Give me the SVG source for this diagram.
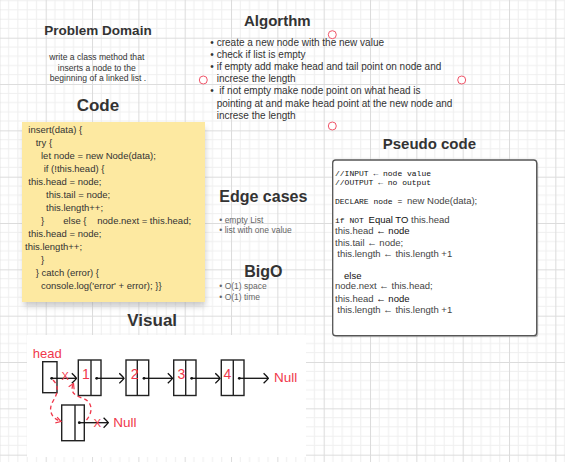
<svg xmlns="http://www.w3.org/2000/svg" width="565" height="462" viewBox="0 0 565 462">
  <defs>
    <pattern id="grid" x="-0.63" y="-8.63" width="46.33" height="46.33" patternUnits="userSpaceOnUse">
      <rect width="46.33" height="46.33" fill="#ffffff"/>
      <path d="M9.27 0V46.33M18.53 0V46.33M27.8 0V46.33M37.06 0V46.33M0 9.27H46.33M0 18.53H46.33M0 27.8H46.33M0 37.06H46.33" stroke="#efefef" stroke-width="1" fill="none"/>
      <path d="M0.5 0V46.33M0 0.5H46.33" stroke="#dcdcdc" stroke-width="1" fill="none"/>
    </pattern>
    <filter id="noteShadow" x="-10%" y="-10%" width="120%" height="130%">
      <feGaussianBlur stdDeviation="3"/>
    </filter>
    <marker id="chev" viewBox="0 0 6 12" refX="5.5" refY="6" markerWidth="6" markerHeight="12" markerUnits="userSpaceOnUse" orient="auto">
      <path d="M0.8 1 Q4 4 5.5 6 Q4 8 0.8 11" fill="none" stroke="#111" stroke-width="1.3"/>
    </marker>
    <marker id="redchev" viewBox="0 0 8 8" refX="6" refY="4" markerWidth="8" markerHeight="8" markerUnits="userSpaceOnUse" orient="auto">
      <path d="M1 1 L6 4 L1 7" fill="none" stroke="#f0384b" stroke-width="1.2"/>
    </marker>
  </defs>
  <style>
    .title { font-family: "Liberation Sans", Arial, sans-serif; font-weight: bold; fill: #333333; }
    .body { font-family: "Liberation Sans", Arial, sans-serif; fill: #333333; }
    .light { font-family: "Liberation Sans", Arial, sans-serif; fill: #666666; font-size: 8.5px; }
    .code { font-family: "Liberation Sans", Arial, sans-serif; fill: #333333; font-size: 9.5px; }
    .mono { font-family: "Liberation Mono", "Courier New", monospace; fill: #111111; font-size: 8px; }
    .ps { font-family: "Liberation Sans", Arial, sans-serif; fill: #444444; font-size: 9.5px; }
    .psb { font-family: "Liberation Sans", Arial, sans-serif; fill: #111111; font-size: 9.5px; }
    .handle { fill: #ffffff; stroke: #f0566a; stroke-width: 1; }
    .box { fill: #ffffff; stroke: #222222; stroke-width: 1.4; }
    .div { stroke: #222222; stroke-width: 1.4; }
    .link { stroke: #111111; stroke-width: 1.3; fill: none; marker-end: url(#chev); }
    .dot { fill: #111111; }
    .red { font-family: "Liberation Sans", Arial, sans-serif; fill: #f0384b; }
    .dash { fill: none; stroke: #f0384b; stroke-width: 1.3; stroke-dasharray: 4 3; marker-end: url(#redchev); }
  </style>

  <rect x="0" y="0" width="565" height="462" fill="url(#grid)"/>

  <g id="problem-domain">
    <text class="title" x="98" y="35" font-size="13.5" text-anchor="middle">Problem Domain</text>
    <text class="body" font-size="8.6" text-anchor="middle">
      <tspan x="98" y="59.5">write a class method that</tspan>
      <tspan x="98" y="70.7">inserts a node to the</tspan>
      <tspan x="98" y="81">beginning of a linked list .</tspan>
    </text>
  </g>

  <g id="algorithm">
    <text class="title" x="244" y="26" font-size="15">Algorthm</text>
    <g class="body" font-size="10">
      <text x="210.3" y="45.5">•</text><text x="216.7" y="45.5">create a new node with the new value</text>
      <text x="210.3" y="57.7">•</text><text x="216.7" y="57.7">check if list is empty</text>
      <text x="210.3" y="69.9">•</text><text x="216.7" y="69.9">if empty add make head and tail point on node and</text>
      <text x="216.7" y="82.1">increse the length</text>
      <text x="210.3" y="94.3">•</text><text x="219.3" y="94.3">if not empty make node point on what head is</text>
      <text x="216.7" y="106.5">pointing at and make head point at the new node and</text>
      <text x="216.7" y="118.7">increse the length</text>
    </g>
    <circle class="handle" cx="332.3" cy="34.7" r="4"/>
    <circle class="handle" cx="203.3" cy="80" r="4"/>
    <circle class="handle" cx="461.7" cy="80" r="4"/>
    <circle class="handle" cx="332.3" cy="126" r="4"/>
  </g>

  <g id="code">
    <text class="title" x="76.7" y="111" font-size="17">Code</text>
    <rect x="24" y="128" width="181" height="178" fill="#9a9a9a" opacity="0.55" filter="url(#noteShadow)"/>
    <rect x="22" y="122" width="183" height="180" fill="#fde9a1"/>
    <g class="code">
      <text x="28.3" y="133">insert(data) {</text>
      <text x="35.7" y="146">try {</text>
      <text x="41" y="159">let node = new Node(data);</text>
      <text x="43.7" y="172">if (!this.head) {</text>
      <text x="28.3" y="185">this.head = node;</text>
      <text x="46" y="198">this.tail = node;</text>
      <text x="46" y="211">this.length++;</text>
      <text x="41" y="224">}</text><text x="63.3" y="224">else {</text><text x="97.3" y="224">node.next = this.head;</text>
      <text x="28.3" y="237">this.head = node;</text>
      <text x="25" y="250">this.length++;</text>
      <text x="41" y="263">}</text>
      <text x="35.7" y="276">} catch (error) {</text>
      <text x="41" y="289">console.log('error' + error); }}</text>
    </g>
  </g>

  <g id="edge-cases">
    <text class="title" x="219.3" y="201.7" font-size="16">Edge cases</text>
    <text class="light" x="219.3" y="222.7">• empty List</text>
    <text class="light" x="219.3" y="233.3">• list with one value</text>
  </g>

  <g id="bigo">
    <text class="title" x="244.3" y="276.7" font-size="16">BigO</text>
    <text class="light" x="219.3" y="289.3">• O(1) space</text>
    <text class="light" x="219.3" y="300">• O(1) time</text>
  </g>

  <g id="pseudo-code">
    <text class="title" x="382.7" y="149" font-size="15">Pseudo code</text>
    <rect x="334.2" y="161.5" width="204" height="175.7" rx="3" fill="#999999" opacity="0.6"/>
    <rect x="332.7" y="160" width="204" height="175.7" rx="3" fill="#ffffff" stroke="#555555" stroke-width="1.3"/>
    <text class="mono" x="335" y="176">//INPUT ← node value</text>
    <text class="mono" x="335" y="185">//OUTPUT ← no output</text>
    <text x="335" y="204"><tspan class="mono">DECLARE node = </tspan><tspan class="ps">new Node(data);</tspan></text>
    <text x="335" y="222.7"><tspan class="mono">if NOT </tspan><tspan class="psb">Equal TO</tspan><tspan class="ps"> this.head</tspan></text>
    <text x="335" y="234"><tspan class="ps">this.head </tspan><tspan class="psb">← node</tspan></text>
    <text class="ps" x="335" y="245.7">this.tail ← node;</text>
    <text class="ps" x="337.3" y="257.3">this.length ← this.length +1</text>
    <text class="psb" x="344" y="279" font-size="9">else</text>
    <text class="ps" x="335" y="289.3">node.next ← this.head;</text>
    <text x="335" y="301.7"><tspan class="ps">this.head </tspan><tspan class="psb">← node</tspan></text>
    <text class="ps" x="337.3" y="312.7">this.length ← this.length +1</text>
  </g>

  <g id="visual">
    <text class="title" x="127.3" y="326" font-size="17">Visual</text>
    <rect x="27" y="335" width="279" height="122" fill="#ffffff"/>
    <text class="red" x="32.7" y="358.3" font-size="13">head</text>
    <g id="head-box"><rect class="box" x="42.7" y="361.7" width="14.3" height="31"/></g>
    <g id="node-1">
      <rect class="box" x="78.3" y="360" width="22.7" height="35.5"/>
      <line class="div" x1="91" y1="360" x2="91" y2="395.5"/>
      <text class="red" x="82" y="379" font-size="14">1</text>
    </g>
    <g id="node-2">
      <rect class="box" x="126" y="360" width="22.7" height="35.5"/>
      <line class="div" x1="137.3" y1="360" x2="137.3" y2="395.5"/>
      <text class="red" x="130.8" y="379" font-size="14">2</text>
    </g>
    <g id="node-3">
      <rect class="box" x="173.7" y="360" width="22.3" height="35.5"/>
      <line class="div" x1="185.7" y1="360" x2="185.7" y2="395.5"/>
      <text class="red" x="177.5" y="379" font-size="14">3</text>
    </g>
    <g id="node-4">
      <rect class="box" x="221.3" y="360" width="22.7" height="35.5" stroke-width="1.8"/>
      <line class="div" x1="233.3" y1="360" x2="233.3" y2="395.5" stroke-width="1.8"/>
      <text class="red" x="223.5" y="379" font-size="14">4</text>
    </g>
    <g id="new-node">
      <rect class="box" x="61.7" y="405" width="22.6" height="35.7"/>
      <line class="div" x1="75" y1="405" x2="75" y2="440.7"/>
    </g>
    <text class="red" x="274" y="381.7" font-size="13.5">Null</text>
    <text class="red" x="113.3" y="426.7" font-size="13.5">Null</text>
    <g id="connectors">
      <line class="link" x1="51.7" y1="378.3" x2="76.5" y2="378.3"/>
      <line class="link" x1="96.7" y1="378.3" x2="124" y2="378.3"/>
      <line class="link" x1="144" y1="378.3" x2="172.5" y2="378.3"/>
      <line class="link" x1="191.7" y1="378.3" x2="220" y2="378.3"/>
      <line class="link" x1="239.3" y1="378.3" x2="268.3" y2="378.3"/>
      <line class="link" x1="79.3" y1="422.7" x2="108.3" y2="422.7"/>
      <circle class="dot" cx="51.7" cy="378.3" r="1.4"/>
      <circle class="dot" cx="96.7" cy="378.3" r="1.4"/>
      <circle class="dot" cx="144" cy="378.3" r="1.4"/>
      <circle class="dot" cx="191.7" cy="378.3" r="1.4"/>
      <circle class="dot" cx="239.3" cy="378.3" r="1.4"/>
      <circle class="dot" cx="79.3" cy="422.7" r="1.4"/>
      <path class="dash" d="M53 380 C61 388 56 396 52 403 C48 412 53 419 61 421.5"/>
      <path class="dash" d="M86.5 420 C94 411 92 401 82 398 C73 395 70 391 73.5 383.5"/>
    </g>
    <text class="red" x="61.5" y="380" font-size="11">X</text>
    <text class="red" x="93.5" y="427" font-size="11.5">X</text>
  </g>
</svg>
